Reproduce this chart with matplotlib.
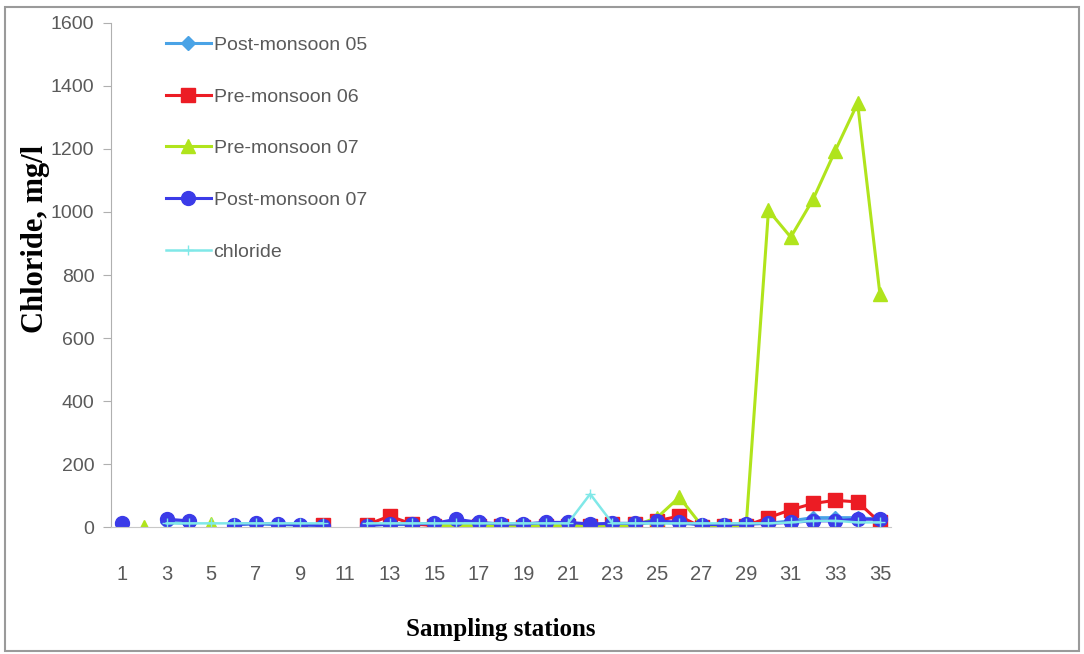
"""Chloride concentration at sampling stations across monsoon seasons."""

import numpy as np
import matplotlib

matplotlib.use("Agg")
import matplotlib.pyplot as plt
from matplotlib.patches import Rectangle

nan = np.nan

stations = list(range(1, 36))
tick_labels = [str(s) for s in range(1, 36, 2)]

post_monsoon_05 = [10, nan, 15, 12, nan, 8, 10, 8, 6, 5, nan, 6, 8, 8, 10, 15, 12,
                   8, 8, 10, 12, 8, 10, 10, 15, 12, 8, 8, 10, 12, 20, 30, 30, 30, 25]
pre_monsoon_06 = [nan, nan, nan, nan, nan, nan, nan, nan, nan, 8, nan, 8, 35, 10, 5, 5, 5,
                  5, 0, 5, 5, 5, 10, 10, 20, 35, 0, 5, 5, 30, 55, 75, 85, 80, 15]
pre_monsoon_07 = [nan, 0, nan, nan, 10, nan, nan, nan, nan, nan, nan, nan, nan, nan, 5, 5, 5,
                  5, 5, 5, 5, 5, 5, 5, 30, 95, 5, 5, 5, 1005, 920, 1040, 1195, 1345, 740]
post_monsoon_07 = [12, nan, 25, 20, nan, 8, 12, 10, 8, 5, nan, 5, 10, 10, 12, 25, 15,
                   10, 10, 15, 15, 10, 12, 12, 20, 15, 8, 8, 10, 12, 15, 20, 20, 25, 25]
chloride = [nan, nan, 12, 12, 12, 12, 12, 12, 12, 12, nan, 12, 12, 12, 12, 12, 12,
            12, 12, 12, 12, 105, 12, 12, 12, 12, 12, 12, 12, 12, 15, 20, 20, 15, 15]

# label, values, colour, marker, marker size, line width
series = [
    ("Post-monsoon 05", post_monsoon_05, "#4aa3e6", "D", 7, 2.2),
    ("Pre-monsoon 06", pre_monsoon_06, "#ec1c24", "s", 10, 2.2),
    ("Pre-monsoon 07", pre_monsoon_07, "#b0e41c", "^", 10, 2.2),
    ("Post-monsoon 07", post_monsoon_07, "#3b3be8", "o", 10, 2.2),
    ("chloride", chloride, "#80e8e8", "+", 7, 1.8),
]

fig = plt.figure(figsize=(10.84, 6.54), dpi=100)
fig.patch.set_facecolor("white")
fig.add_artist(Rectangle((0.005, 0.005), 0.99, 0.985, transform=fig.transFigure,
                         fill=False, edgecolor="#9a9a9a", linewidth=1.5))

ax = fig.add_axes([0.1024, 0.194, 0.7196, 0.771])

for label, values, color, marker, size, lw in series:
    ax.plot(stations, values, color=color, marker=marker, markersize=size,
            linewidth=lw, label=label)

ax.set_xlim(0.5, 35.5)
ax.set_ylim(0, 1600)
ax.set_yticks(range(0, 1601, 200))
ax.set_xticks(range(1, 36, 2))
ax.set_xticklabels(tick_labels)

for side in ("top", "right"):
    ax.spines[side].set_visible(False)
ax.spines["left"].set_color("#b0b0b0")
ax.spines["bottom"].set_position(("data", 0))
ax.spines["bottom"].set_color("#c8c8c8")

ax.tick_params(axis="y", colors="#b0b0b0", labelcolor="#5a5a5a", labelsize=14,
               length=6, pad=6)
ax.tick_params(axis="x", length=0, labelcolor="#5a5a5a", labelsize=14.5, pad=27)
for lbl in ax.get_xticklabels() + ax.get_yticklabels():
    lbl.set_family("Liberation Sans")

serif = ["Liberation Serif", "DejaVu Serif"]
fig.text(0.033, 0.635, "Chloride, mg/l", rotation=90, ha="center", va="center",
         fontsize=22, fontweight="bold", family=serif)
fig.text(0.462, 0.037, "Sampling stations", ha="center", va="center",
         fontsize=18, fontweight="bold", family=serif)

leg = ax.legend(loc="upper left", bbox_to_anchor=(0.048, 1.008), frameon=False,
                handlelength=2.3, handletextpad=0.15, labelspacing=1.75,
                prop={"family": "Liberation Sans", "size": 14})
for text in leg.get_texts():
    text.set_color("#5a5a5a")

fig.savefig("out.png", dpi=100)
